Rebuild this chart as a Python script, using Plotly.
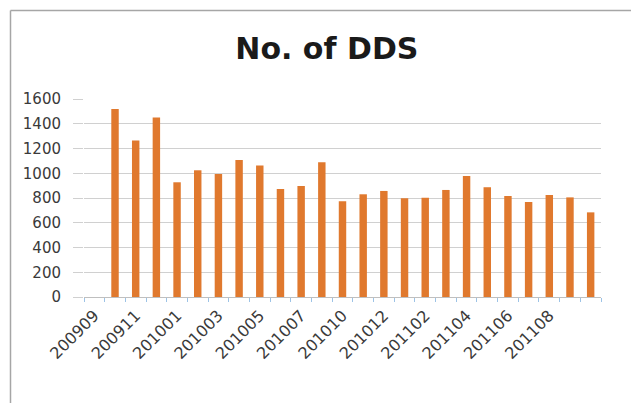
import plotly.graph_objects as go

months = ["200909", "200910", "200911", "200912", "201001", "201002", "201003",
          "201004", "201005", "201006", "201007", "201009", "201010", "201011",
          "201012", "201101", "201102", "201103", "201104", "201105", "201106",
          "201107", "201108", "201109", "201110"]
dds = [None, 1519, 1264, 1451, 927, 1024, 994, 1108, 1062, 873, 897, 1089, 773,
       830, 857, 797, 802, 865, 978, 887, 816, 767, 824, 805, 684]
label_months = months[0:23:2]
y_ticks = [0, 200, 400, 600, 800, 1000, 1200, 1400, 1600]

idx = list(range(len(months)))

W, H = 631, 403
ML, MR, MT, MB = 84, 30, 99, 106
PW, PH = W - ML - MR, H - MT - MB

def px_to_paper_x(px):
    return (px - ML) / PW

def px_to_paper_y(py):
    return (H - MB - py) / PH

fig = go.Figure()
fig.add_trace(go.Bar(
    x=idx, y=dds, width=0.36,
    marker=dict(color="#E0792E", line=dict(width=0)),
))

fig.update_layout(
    width=W, height=H,
    margin=dict(l=ML, r=MR, t=MT, b=MB),
    paper_bgcolor="white", plot_bgcolor="white",
    showlegend=False,
    font=dict(family="DejaVu Sans", color="#404040"),
    title=dict(text="<b>No. of DDS</b>", x=0.518, xanchor="center",
               y=1 - 48 / H, yanchor="middle",
               font=dict(family="DejaVu Sans", size=30, color="#1a1a1a")),
    xaxis=dict(
        range=[-0.5, len(months) - 0.5],
        tickmode="array", tickvals=idx[0:23:2], ticktext=label_months,
        tickangle=-45, ticks="", showgrid=False, zeroline=False,
        showline=True, linecolor="#bfbfbf", linewidth=1,
        tickfont=dict(size=16, color="#3a3a3a"),
        ticklabelstandoff=2,
        minor=dict(tickmode="linear", tick0=-0.5, dtick=1, ticks="outside",
                   ticklen=4, tickcolor="#9dc3e6", tickwidth=1, showgrid=False),
    ),
    yaxis=dict(
        range=[0, 1600], tickmode="array", tickvals=y_ticks,
        showgrid=True, gridcolor="#d0d0d0", gridwidth=1,
        zeroline=False, showline=False,
        ticks="outside", ticklen=10, tickcolor="#d0d0d0",
        ticklabelstandoff=9,
        tickfont=dict(size=15, color="#3a3a3a"),
    ),
    shapes=[
        dict(type="line", xref="paper", yref="paper",
             x0=px_to_paper_x(10.5), x1=px_to_paper_x(W + 5),
             y0=px_to_paper_y(10.5), y1=px_to_paper_y(10.5),
             line=dict(color="#a6a6a6", width=1.5)),
        dict(type="line", xref="paper", yref="paper",
             x0=px_to_paper_x(10.5), x1=px_to_paper_x(10.5),
             y0=px_to_paper_y(10.5), y1=px_to_paper_y(H + 5),
             line=dict(color="#a6a6a6", width=1.5)),
    ],
)

fig.write_html("out.html")
